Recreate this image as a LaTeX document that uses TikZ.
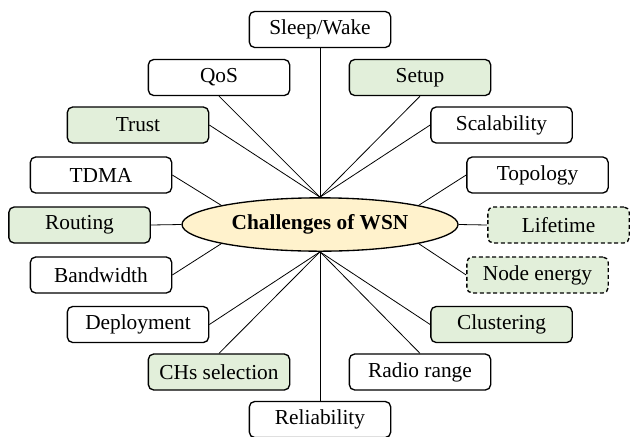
\documentclass[tikz,border=0pt]{standalone}
\usepackage{fontspec}
\setmainfont{Liberation Serif}
\usetikzlibrary{shapes.geometric}
\definecolor{boxgreen}{HTML}{E2EFDA}
\definecolor{ellyellow}{HTML}{FFF2CC}
\begin{document}
\begin{tikzpicture}[x=0.75pt,y=-0.75pt,
  every node/.style={font=\fontsize{16pt}{19pt}\selectfont},
  item/.style={draw, line width=1pt, rounded corners=4pt, minimum width=106pt, minimum height=27pt, inner sep=0pt, fill=white},
  greenitem/.style={item, fill=boxgreen},
  dashitem/.style={greenitem, dash pattern=on 3pt off 2pt},
  link/.style={line width=0.6pt}]
\useasboundingbox (0,0) rectangle (630,436);
\node[ellipse, draw, line width=1pt, fill=ellyellow, minimum width=207pt, minimum height=40pt, inner sep=0pt, font=\fontsize{16pt}{19pt}\selectfont\bfseries] (e) at (320,224.5) {Challenges of WSN};
\node[item] (sw) at (320,29.5) {Sleep/Wake};
\node[item] (qos) at (219,77.5) {QoS};
\node[greenitem] (setup) at (420,77.5) {Setup};
\node[greenitem] (trust) at (138,125) {Trust};
\node[item] (scal) at (501.5,125) {Scalability};
\node[item] (tdma) at (101,175) {TDMA};
\node[item] (topo) at (537.5,175) {Topology};
\node[greenitem] (routing) at (79.5,225) {Routing};
\node[dashitem] (life) at (558.5,225) {Lifetime};
\node[item] (bw) at (101,275) {Bandwidth};
\node[dashitem] (ne) at (537.5,275) {Node energy};
\node[item] (dep) at (138,324.5) {Deployment};
\node[greenitem] (clus) at (501.5,324.5) {Clustering};
\node[greenitem] (chs) at (219,372) {CHs selection};
\node[item] (radio) at (420,372) {Radio range};
\node[item] (rel) at (320,419.5) {Reliability};
\begin{scope}[link]
\draw (e.north) -- (sw.south);
\draw (e.north) -- (qos.south);
\draw (e.north) -- (setup.south);
\draw (e.north) -- (trust.east);
\draw (e.north) -- (scal.west);
\draw (tdma.east) -- (e.169);
\draw (topo.west) -- (e.11);
\draw (routing.east) -- (e.west);
\draw (e.east) -- (life.west);
\draw (bw.east) -- (e.191);
\draw (ne.west) -- (e.-11);
\draw (e.south) -- (dep.east);
\draw (e.south) -- (clus.west);
\draw (e.south) -- (chs.north);
\draw (e.south) -- (radio.north);
\draw (e.south) -- (rel.north);
\end{scope}
\end{tikzpicture}
\end{document}
